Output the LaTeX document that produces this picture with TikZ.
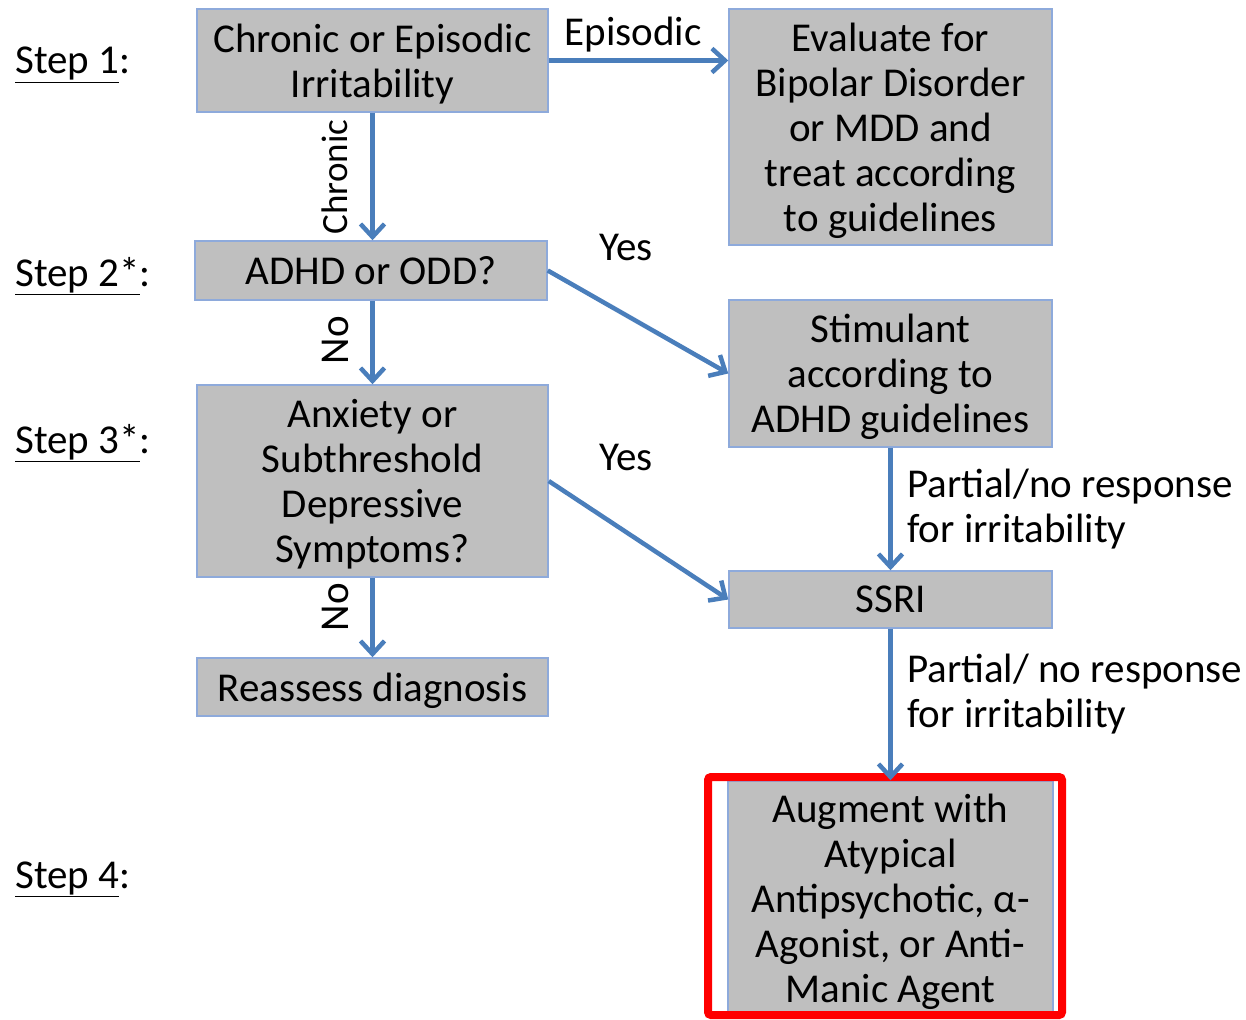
\documentclass[tikz,border=0pt]{standalone}
\usepackage{fontspec}
\setmainfont{Carlito}
\usepackage{tikz}
\usetikzlibrary{arrows.meta}
\definecolor{boxgray}{HTML}{BFBFBF}
\definecolor{boxline}{HTML}{8EAADB}
\definecolor{flowblue}{HTML}{4A7EBB}

\begin{document}
\begin{tikzpicture}[x=1pt, y=-1pt,
	every node/.style={font=\fontsize{41}{45}\selectfont, inner sep=0pt},
	stepbox/.style={draw=boxline, line width=1.5pt, fill=boxgray, align=center, text depth=0pt},
	flow/.style={draw=flowblue, line width=4.5pt, -{Straight Barb[length=13pt, width=24pt, line width=4.5pt]}},
	steplabel/.style={anchor=west}]
	\useasboundingbox (0,0) rectangle (1246,1019);

	% step labels
	\node[steplabel] (s1) at (15,65) {\underline{Step 1}:};
	\node[steplabel] (s2) at (15,276) {\underline{Step 2*}:};
	\node[steplabel] (s3) at (15,443) {\underline{Step 3*}:};
	\node[steplabel] (s4) at (15,879) {\underline{Step 4}:};

	% left column
	\node[stepbox, minimum width=351pt, minimum height=103pt] (irrit) at (372.5,60.5) {Chronic or Episodic\\Irritability};
	\node[stepbox, minimum width=352pt, minimum height=59pt] (adhd) at (371,270.5) {ADHD or ODD?};
	\node[stepbox, minimum width=351pt, minimum height=192pt] (anx) at (372.5,481) {Anxiety or\\Subthreshold\\Depressive\\Symptoms?};
	\node[stepbox, minimum width=351pt, minimum height=58pt] (reass) at (372.5,687) {Reassess diagnosis};

	% right column
	\node[stepbox, minimum width=323pt, minimum height=236pt] (bipolar) at (890.5,127) {Evaluate for\\Bipolar Disorder\\or MDD and\\treat according\\to guidelines};
	\node[stepbox, minimum width=323pt, minimum height=147pt] (stim) at (890.5,373.5) {Stimulant\\according to\\ADHD guidelines};
	\node[stepbox, minimum width=323pt, minimum height=57pt] (ssri) at (890.5,599.5) {SSRI};
	\node[stepbox, minimum width=325pt, minimum height=234pt] (augm) at (890.5,898) {Augment with\\Atypical\\Antipsychotic, α-\\Agonist, or Anti-\\Manic Agent};
	\draw[red, line width=8pt, rounded corners=3pt] (708,777) rectangle (1062,1015);

	% connectors
	\draw[flow] (irrit.east) -- (irrit.east -| bipolar.west);
	\draw[flow] (irrit.south) -- (adhd.north -| irrit.south);
	\draw[flow] (adhd.east) -- (stim.west);
	\draw[flow] (adhd.south -| irrit.south) -- (anx.north);
	\draw[flow] (anx.east) -- (ssri.west);
	\draw[flow] (anx.south) -- (reass.north);
	\draw[flow] (stim.south) -- (ssri.north);
	\draw[flow] (ssri.south) -- (augm.north);

	% connector labels
	\node (lepi) at (633,35) {Episodic};
	\node[rotate=90, font=\fontsize{37}{40}\selectfont] (lchr) at (335,177) {Chronic};
	\node (lyes1) at (626,247) {Yes};
	\node[rotate=90] (lno1) at (335,340) {No};
	\node (lyes2) at (626,457) {Yes};
	\node[rotate=90] (lno2) at (335,607) {No};
	\node[anchor=west, align=left] (lpart1) at (907,509) {Partial/no response\\for irritability};
	\node[anchor=west, align=left] (lpart2) at (907,694) {Partial/ no response\\for irritability};
\end{tikzpicture}
\end{document}
